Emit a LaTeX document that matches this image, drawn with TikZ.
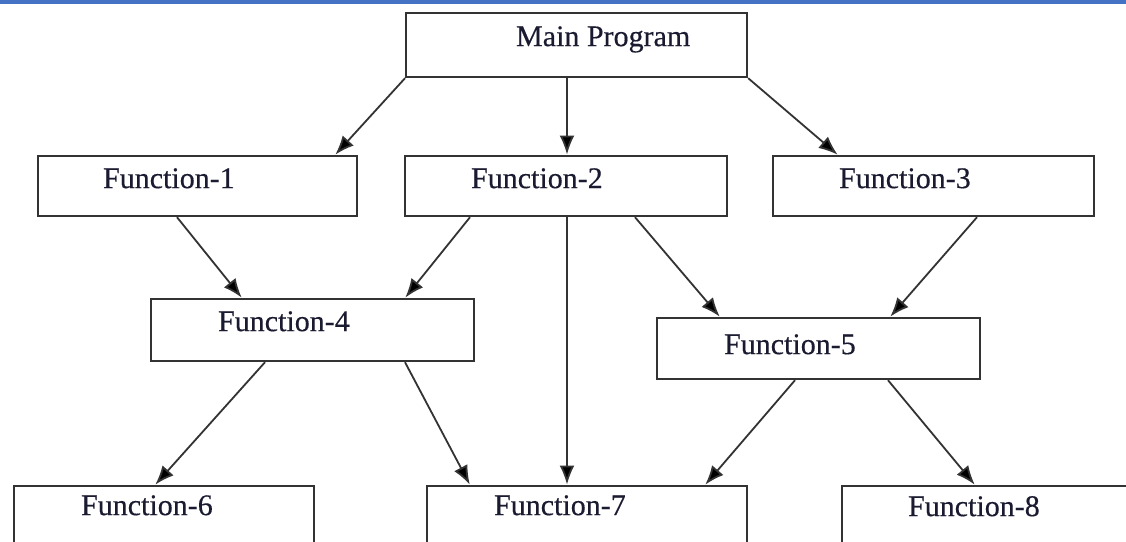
\documentclass[tikz,border=0pt]{standalone}
\usepackage{fontspec}
\setmainfont{Liberation Serif}[FakeBold=0.4]
\usetikzlibrary{arrows.meta}
\definecolor{barblue}{HTML}{4472C4}
\definecolor{edge}{HTML}{333333}
\definecolor{ink}{HTML}{1A1A30}
\tikzset{
  box/.style={draw=edge, line width=2.2pt, inner sep=0pt, anchor=north west,
    text height=32pt, text depth=28pt, text=ink, font=\fontsize{30}{36}\selectfont},
  arr/.style={draw=edge, line width=1.8pt, -{Latex[length=19pt,width=15pt,fill=black]}, shorten >=0.5pt}
}
% a label placed a fixed distance from the left edge of a box of given width
\newcommand{\boxtext}[3]{\makebox[#1pt][l]{\hspace{#2pt}#3}}
\begin{document}
\begin{tikzpicture}[x=1pt,y=-1pt]
  \clip (0,0) rectangle (1126,541);
  \fill[white] (0,0) rectangle (1126,541);
  \fill[barblue] (0,0) rectangle (1126,4);

  % top level
  \node[box, text height=33pt, text depth=31pt] (main) at (405,12) {\boxtext{341}{110}{Main Program}};

  % second level
  \node[box] (f1) at (37,155)  {\boxtext{319}{65}{Function-1}};
  \node[box] (f2) at (404,155) {\boxtext{322}{66}{Function-2}};
  \node[box] (f3) at (772,155) {\boxtext{321}{66}{Function-3}};

  % third level
  \node[box, text depth=30pt] (f4) at (150,298) {\boxtext{323}{67}{Function-4}};
  \node[box, text height=36pt, text depth=25pt] (f5) at (656,317) {\boxtext{323}{67}{Function-5}};

  % bottom level
  \node[box, text height=29pt, text depth=31pt] (f6) at (13,485)  {\boxtext{300}{67}{Function-6}};
  \node[box, text height=29pt, text depth=31pt] (f7) at (426,485) {\boxtext{320}{67}{Function-7}};
  \node[box, text height=30pt, text depth=30pt] (f8) at (841,485) {\boxtext{300}{66}{Function-8}};

  % calls from the main program
  \draw[arr] (main.south west) -- ([xshift=298pt]f1.north west);
  \draw[arr] ([xshift=162pt]main.south west) -- ([xshift=163pt]f2.north west);
  \draw[arr] (main.south east) -- ([xshift=66pt]f3.north west);

  % calls between functions
  \draw[arr] ([xshift=140pt]f1.south west) -- ([xshift=92pt]f4.north west);
  \draw[arr] ([xshift=66pt]f2.south west) -- ([xshift=255pt]f4.north west);
  \draw[arr] ([xshift=163pt]f2.south west) -- ([xshift=141pt]f7.north west);
  \draw[arr] ([xshift=231pt]f2.south west) -- ([xshift=64pt]f5.north west);
  \draw[arr] ([xshift=205pt]f3.south west) -- ([xshift=234pt]f5.north west);
  \draw[arr] ([xshift=115pt]f4.south west) -- ([xshift=142pt]f6.north west);
  \draw[arr] ([xshift=255pt]f4.south west) -- ([xshift=44pt]f7.north west);
  \draw[arr] ([xshift=139pt]f5.south west) -- ([xshift=279pt]f7.north west);
  \draw[arr] ([xshift=232pt]f5.south west) -- ([xshift=134pt]f8.north west);
\end{tikzpicture}
\end{document}
